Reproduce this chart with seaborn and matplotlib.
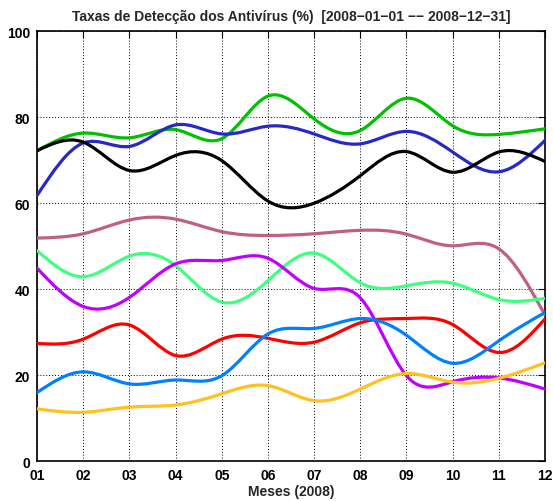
import numpy as np
import seaborn as sns
import matplotlib.pyplot as plt
from matplotlib.path import Path
from matplotlib.patches import PathPatch

# dados mensais (%)
meses = ["01", "02", "03", "04", "05", "06", "07", "08", "09", "10", "11", "12"]
verde = [72.2, 76.3, 75.2, 77.1, 75.0, 84.9, 79.6, 76.9, 84.4, 78.0, 76.0, 77.3]
azul = [61.8, 74.0, 73.2, 78.2, 76.1, 77.9, 76.1, 73.8, 76.7, 71.9, 67.3, 74.6]
preto = [72.2, 74.2, 67.6, 71.1, 69.9, 60.5, 60.0, 66.4, 72.0, 67.2, 71.9, 69.7]
rosa = [51.9, 52.9, 56.1, 56.3, 53.4, 52.5, 52.9, 53.7, 52.8, 50.1, 49.4, 34.0]
verde_claro = [49.0, 42.9, 47.7, 45.5, 37.0, 42.0, 48.4, 41.5, 40.8, 41.4, 37.6, 37.9]
roxo = [44.9, 36.0, 38.1, 45.9, 46.7, 47.2, 40.2, 38.0, 19.9, 18.5, 19.4, 16.8]
vermelho = [27.4, 28.4, 31.7, 24.6, 28.4, 28.6, 27.7, 32.2, 33.2, 31.8, 25.3, 33.1]
azul_claro = [16.0, 20.8, 18.0, 18.9, 19.9, 29.6, 30.9, 33.2, 29.3, 22.8, 28.0, 34.6]
amarelo = [12.2, 11.4, 12.6, 13.1, 15.7, 17.6, 14.1, 16.8, 20.4, 18.4, 19.3, 22.9]

series = [
    (verde, "#00c000"),
    (azul, "#2828c8"),
    (preto, "#000000"),
    (rosa, "#c06080"),
    (verde_claro, "#40ff80"),
    (roxo, "#c000ff"),
    (vermelho, "#ff0000"),
    (azul_claro, "#0080ff"),
    (amarelo, "#ffc020"),
]


def spline_path(xs, ys):
    # spline cubica natural (como "smooth csplines" do gnuplot) desenhada como curvas de Bezier
    xs = np.asarray(xs, float)
    ys = np.asarray(ys, float)
    n = len(xs)
    h = np.diff(xs)
    A = np.zeros((n, n))
    b = np.zeros(n)
    A[0, 0] = A[-1, -1] = 1
    for i in range(1, n - 1):
        A[i, i - 1] = h[i - 1]
        A[i, i] = 2 * (h[i - 1] + h[i])
        A[i, i + 1] = h[i]
        b[i] = 6 * ((ys[i + 1] - ys[i]) / h[i] - (ys[i] - ys[i - 1]) / h[i - 1])
    M = np.linalg.solve(A, b)
    verts = [(xs[0], ys[0])]
    codes = [Path.MOVETO]
    for i in range(n - 1):
        s = (ys[i + 1] - ys[i]) / h[i]
        m0 = s - h[i] * (2 * M[i] + M[i + 1]) / 6
        m1 = s + h[i] * (M[i] + 2 * M[i + 1]) / 6
        verts += [(xs[i] + h[i] / 3, ys[i] + m0 * h[i] / 3),
                  (xs[i + 1] - h[i] / 3, ys[i + 1] - m1 * h[i] / 3),
                  (xs[i + 1], ys[i + 1])]
        codes += [Path.CURVE4] * 3
    return Path(verts, codes)


sns.set_style("white")
plt.rcParams['font.family'] = ['Liberation Sans', 'DejaVu Sans']

fig = plt.figure(figsize=(5.53, 5.02), dpi=100)
ax = fig.add_axes([0.067, 0.079, 0.9185, 0.857])

x = np.arange(1, len(meses) + 1)
for valores, cor in series:
    ax.add_patch(PathPatch(spline_path(x, valores), fill=False, edgecolor=cor,
                           lw=2.3, capstyle="round", joinstyle="round", zorder=3))

ax.set_xlim(1, 12)
ax.set_ylim(0, 100)
ax.set_xticks(x)
ax.set_xticklabels(meses)
ax.set_yticks(range(0, 101, 20))
ax.grid(True, color="black", linestyle=(0, (1, 2)), linewidth=0.7)
ax.tick_params(direction="in", top=True, right=True, length=5, width=0.8,
               labelsize=10, pad=5, colors="black")
for lab in ax.get_xticklabels() + ax.get_yticklabels():
    lab.set_fontweight("bold")
for s in ax.spines.values():
    s.set_color("black")
    s.set_linewidth(1.2)

ax.set_title("Taxas de Detecção dos Antivírus (%)  [2008\u221201\u221201 \u2212\u2212 2008\u221212\u221231]",
             fontsize=10, fontweight="bold", pad=8)
ax.set_xlabel("Meses (2008)", fontsize=10, fontweight="bold", labelpad=1)

fig.savefig("out.png", dpi=100)
